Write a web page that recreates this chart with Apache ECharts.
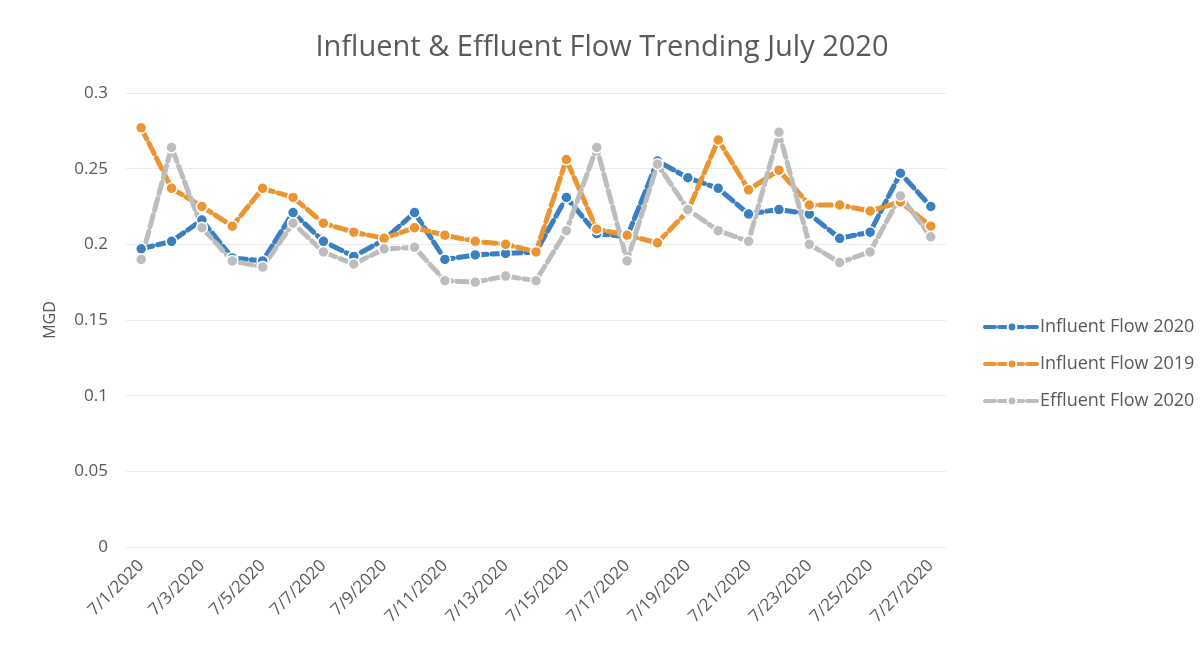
<!DOCTYPE html>
<html>
<head>
<meta charset="utf-8">
<script src="https://cdn.jsdelivr.net/npm/echarts@6/dist/echarts.min.js"></script>
<style>
  html, body { margin: 0; padding: 0; background: #fff; }
  #chart { width: 1204px; height: 655px; }
</style>
</head>
<body>
<div id="chart"></div>
<script>
// dates 7/1 .. 7/27
const dates = ['7/1/2020', '7/2/2020', '7/3/2020', '7/4/2020', '7/5/2020', '7/6/2020', '7/7/2020',
  '7/8/2020', '7/9/2020', '7/10/2020', '7/11/2020', '7/12/2020', '7/13/2020', '7/14/2020',
  '7/15/2020', '7/16/2020', '7/17/2020', '7/18/2020', '7/19/2020', '7/20/2020', '7/21/2020',
  '7/22/2020', '7/23/2020', '7/24/2020', '7/25/2020', '7/26/2020', '7/27/2020']

const influent2020 = [0.197, 0.202, 0.216, 0.191, 0.189, 0.221, 0.202, 0.192, 0.203, 0.221,
  0.190, 0.193, 0.194, 0.195, 0.231, 0.207, 0.205, 0.255, 0.244, 0.237, 0.220,
  0.223, 0.220, 0.204, 0.208, 0.247, 0.225]

const influent2019 = [0.277, 0.237, 0.225, 0.212, 0.237, 0.231, 0.214, 0.208, 0.204, 0.211,
  0.206, 0.202, 0.200, 0.195, 0.256, 0.210, 0.206, 0.201, 0.222, 0.269, 0.236,
  0.249, 0.226, 0.226, 0.222, 0.228, 0.212]

const effluent2020 = [0.190, 0.264, 0.211, 0.189, 0.185, 0.214, 0.195, 0.187, 0.197, 0.198,
  0.176, 0.175, 0.179, 0.176, 0.209, 0.264, 0.189, 0.253, 0.223, 0.209, 0.202,
  0.274, 0.200, 0.188, 0.195, 0.232, 0.205]

const seriesNames = ['Influent Flow 2020', 'Influent Flow 2019', 'Effluent Flow 2020']
const colors = ['#3a7fc1', '#ec9430', '#bdbdbd']

const textColor = '#595959'
const font = '"Open Sans", "Noto Sans", sans-serif'

function makeLine(name, data, color) {
  return {
    name: name,
    type: 'line',
    data: data,
    symbol: 'circle',
    symbolSize: 11,
    itemStyle: { color: color, borderColor: '#fff', borderWidth: 1.5 },
    lineStyle: { color: color, width: 5, type: [12, 5], cap: 'round' },
    emphasis: { disabled: true }
  }
}

const chart = echarts.init(document.getElementById('chart'))
const option = {
  animation: false,
  backgroundColor: '#fff',
  textStyle: { fontFamily: font },
  title: {
    text: 'Influent & Effluent Flow Trending July 2020',
    left: 'center',
    top: 28,
    textStyle: { color: textColor, fontSize: 29, fontWeight: 'normal', fontFamily: font }
  },
  legend: {
    orient: 'vertical',
    left: 978,
    top: 313,
    itemWidth: 54,
    itemHeight: 11,
    itemGap: 19,
    data: seriesNames,
    lineStyle: { width: 4, type: [10, 4] },
    textStyle: { color: textColor, fontSize: 18, fontFamily: font, padding: [0, 0, 0, -4] }
  },
  grid: { left: 126, right: 258, top: 93, bottom: 108 },
  xAxis: {
    type: 'category',
    data: dates,
    boundaryGap: true,
    axisLine: { show: false },
    axisTick: { show: false },
    axisLabel: {
      interval: 1,
      rotate: 45,
      color: textColor,
      fontSize: 17,
      fontFamily: font,
      margin: 16
    }
  },
  yAxis: {
    type: 'value',
    name: 'MGD',
    nameLocation: 'middle',
    nameGap: 68,
    nameRotate: 90,
    nameTextStyle: { color: textColor, fontSize: 16, fontFamily: font },
    min: 0,
    max: 0.3,
    interval: 0.05,
    axisLine: { show: false },
    axisTick: { show: false },
    axisLabel: { color: textColor, fontSize: 17, fontFamily: font, margin: 18 },
    splitLine: { lineStyle: { color: '#ececec', width: 1 } }
  },
  series: [
    makeLine(seriesNames[0], influent2020, colors[0]),
    makeLine(seriesNames[1], influent2019, colors[1]),
    makeLine(seriesNames[2], effluent2020, colors[2])
  ]
}
chart.setOption(option)
</script>
</body>
</html>
